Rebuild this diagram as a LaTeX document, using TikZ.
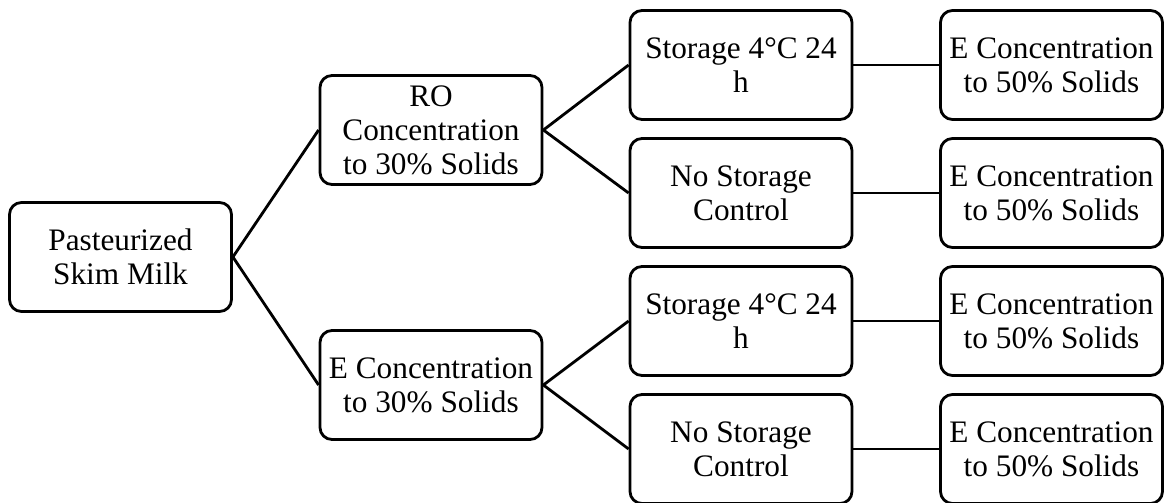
\documentclass[tikz,border=0pt]{standalone}
\usepackage{fontspec}
\setmainfont{Liberation Serif}
\begin{document}
\begin{tikzpicture}[line width=1.6pt,
    box/.style={draw, rounded corners=0.24cm, minimum width=4.44cm, minimum height=2.18cm,
      align=center, inner sep=0pt, font=\fontsize{17.8}{19.4}\selectfont}]

      \useasboundingbox (0,0) rectangle (23.32,10.04);

      % first and second stage
      \node[box] (milk) at (2.41,4.9) {Pasteurized\\Skim Milk};
      \node[box] (ro) at (8.62,7.44) {RO\\Concentration\\to 30\% Solids};
      \node[box] (ev30) at (8.62,2.34) {E Concentration\\to 30\% Solids};

      % storage
      \node[box] (st1) at (14.82,8.74) {Storage 4°C 24\\h};
      \node[box] (ns1) at (14.82,6.18) {No Storage\\Control};
      \node[box] (st2) at (14.82,3.62) {Storage 4°C 24\\h};
      \node[box] (ns2) at (14.82,1.06) {No Storage\\Control};

      % final concentration
      \node[box] (ev50a) at (21.03,8.74) {E Concentration\\to 50\% Solids};
      \node[box] (ev50b) at (21.03,6.18) {E Concentration\\to 50\% Solids};
      \node[box] (ev50c) at (21.03,3.62) {E Concentration\\to 50\% Solids};
      \node[box] (ev50d) at (21.03,1.06) {E Concentration\\to 50\% Solids};

      \draw (milk.east)--(ro.west);
      \draw (milk.east)--(ev30.west);
      \draw (ro.east)--(st1.west);
      \draw (ro.east)--(ns1.west);
      \draw (ev30.east)--(st2.west);
      \draw (ev30.east)--(ns2.west);
      \draw (st1.east)--(ev50a.west);
      \draw (ns1.east)--(ev50b.west);
      \draw (st2.east)--(ev50c.west);
      \draw (ns2.east)--(ev50d.west);
  \end{tikzpicture}
\end{document}
